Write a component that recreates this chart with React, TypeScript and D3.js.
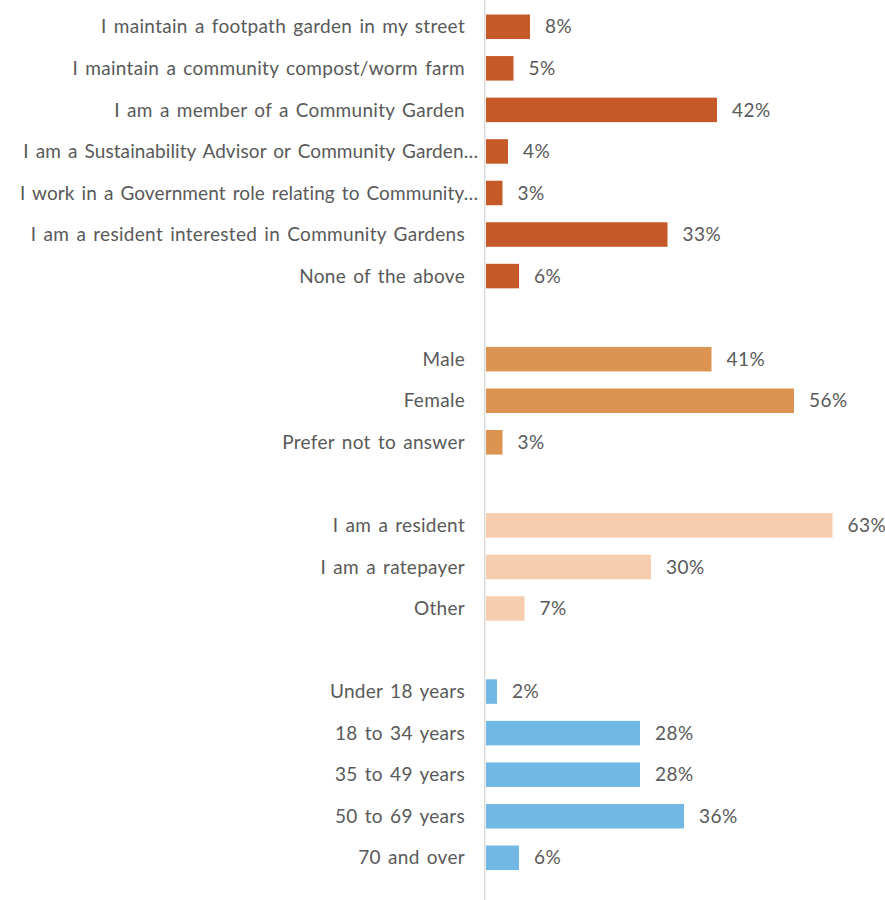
import React from "react";
import * as d3 from "d3";

const categories = [
  "I maintain a footpath garden in my street",
  "I maintain a community compost/worm farm",
  "I am a member of a Community Garden",
  "I am a Sustainability Advisor or Community Garden…",
  "I work in a Government role relating to Community…",
  "I am a resident interested in Community Gardens",
  "None of the above",
  "",
  "Male",
  "Female",
  "Prefer not to answer",
  "",
  "I am a resident",
  "I am a ratepayer",
  "Other",
  "",
  "Under 18 years",
  "18 to 34 years",
  "35 to 49 years",
  "50 to 69 years",
  "70 and over",
];

const values: (number | null)[] = [
  8, 5, 42, 4, 3, 33, 6, null, 41, 56, 3, null, 63, 30, 7, null, 2, 28, 28, 36, 6,
];

const groups = [0, 0, 0, 0, 0, 0, 0, -1, 1, 1, 1, -1, 2, 2, 2, -1, 3, 3, 3, 3, 3];
const groupColors = ["#C55A28", "#DC9452", "#F6CDAF", "#72B8E4"];

const W = 885;
const H = 900;

export default function App() {
  const x = d3.scaleLinear().domain([0, 100]).range([486, 486 + 550]);
  const y = d3
    .scaleBand<number>()
    .domain(d3.range(categories.length))
    .range([6, 6 + 41.55 * categories.length])
    .paddingInner(0.41)
    .paddingOuter(0.205);
  const font = "Lato, 'Open Sans', sans-serif";
  return (
    <svg
      width={W}
      height={H}
      style={{ position: "absolute", left: 0, top: 0, background: "#fff" }}
    >
      <line x1={484.7} x2={484.7} y1={0} y2={H} stroke="#D9D9D9" strokeWidth={1.5} />
      {categories.map((c, i) => {
        const v = values[i];
        if (v == null) return null;
        const yc = (y(i) as number) + y.bandwidth() / 2;
        const truncated = c.endsWith("…");
        return (
          <g key={i}>
            <rect
              x={x(0)}
              y={y(i)}
              width={x(v) - x(0)}
              height={y.bandwidth()}
              fill={groupColors[groups[i]]}
            />
            <text
              x={truncated ? 478 : 465}
              y={yc}
              dy="0.35em"
              textAnchor="end"
              fontFamily={font}
              fontSize={19}
              fill="#595959"
              style={{ wordSpacing: "2px", letterSpacing: truncated ? "0.1px" : "0.3px" }}
            >
              {c}
            </text>
            <text
              x={x(v) + 15}
              y={yc}
              dy="0.35em"
              fontFamily={font}
              fontSize={19}
              fill="#595959"
              style={{ letterSpacing: "0.5px" }}
            >
              {v}%
            </text>
          </g>
        );
      })}
    </svg>
  );
}
